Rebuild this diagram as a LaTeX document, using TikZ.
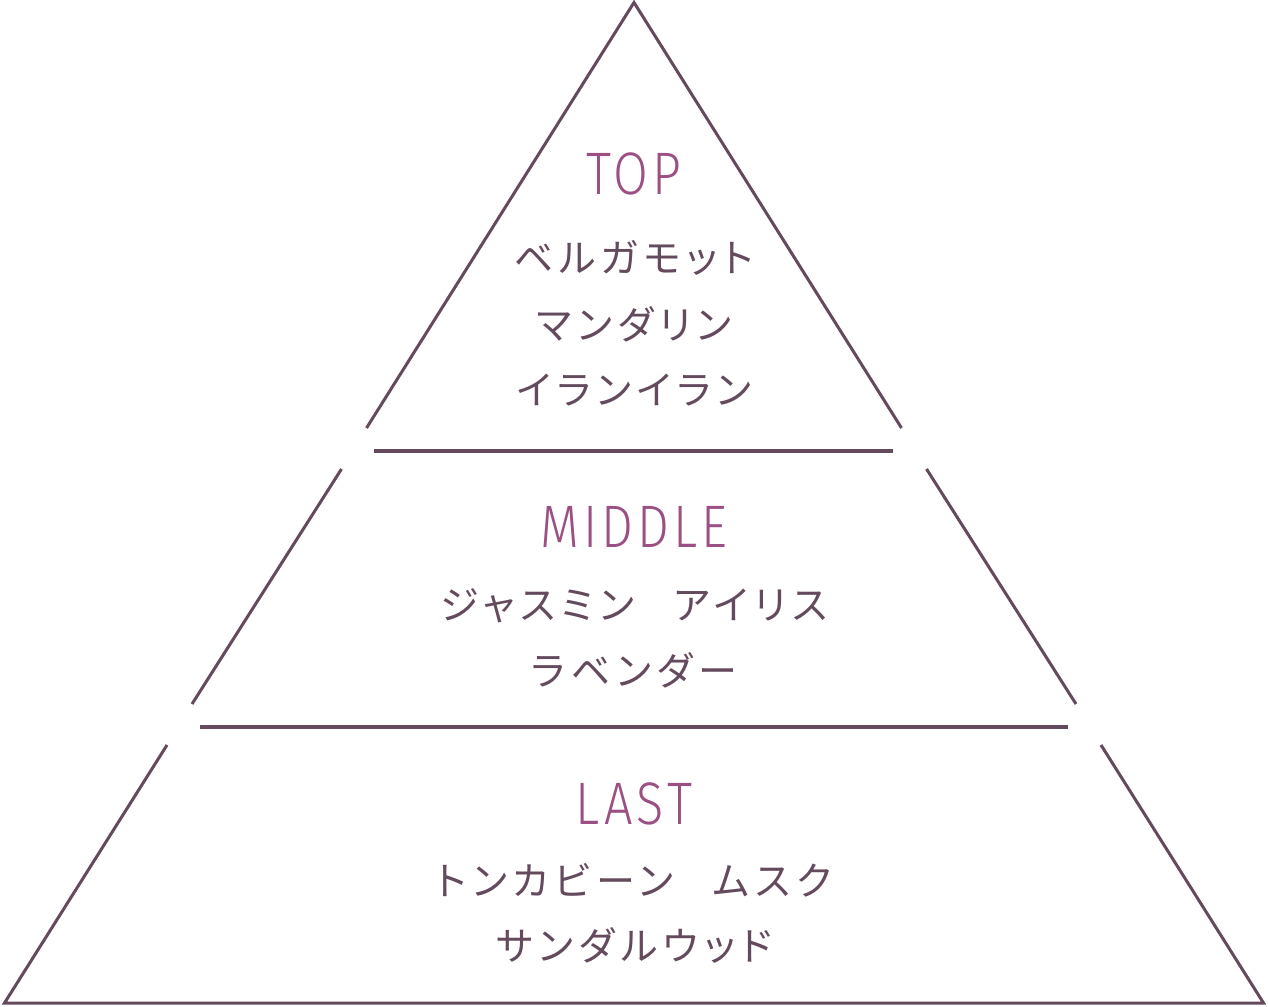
\documentclass[tikz,border=0pt]{standalone}
\usepackage{fontspec}
\newfontfamily\jpfont{Noto Sans CJK JP}[RawFeature=+palt]
\newfontfamily\titlefont{Fira Sans}[UprightFont={* Light},FakeStretch=0.84,LetterSpace=7]
\definecolor{linec}{HTML}{634A5C}
\definecolor{titlec}{HTML}{9B4F83}
\definecolor{textc}{HTML}{634A5C}
\tikzset{
  pyr/.style={draw=linec, line width=3pt, line join=miter, line cap=butt},
  sep/.style={draw=linec, line width=3.6pt},
  ttl/.style={text=titlec, font=\titlefont\fontsize{60}{60}\selectfont, inner sep=0pt, anchor=center},
  jp/.style={text=textc, font=\jpfont\fontsize{39}{39}\selectfont\addfontfeature{LetterSpace=15}, inner sep=0pt, anchor=center},
}
\newcommand{\jgap}{\hspace{40pt}}
\begin{document}
\begin{tikzpicture}[x=1pt,y=-1pt]
\useasboundingbox (0,0) rectangle (1268,1006);
% pyramid pieces
\coordinate (apex) at (634,2.5);
\coordinate (t1l) at (366.5,428);
\coordinate (t1r) at (901.5,428);
\coordinate (m1l) at (341.5,469);
\coordinate (m1r) at (926.5,469);
\coordinate (m2l) at (192,704);
\coordinate (m2r) at (1076,704);
\coordinate (b1l) at (167,745);
\coordinate (b1r) at (1101,745);
\coordinate (b2l) at (4.5,1003);
\coordinate (b2r) at (1263.5,1003);
\coordinate (s1l) at (374,451);
\coordinate (s1r) at (893,451);
\coordinate (s2l) at (200,727);
\coordinate (s2r) at (1068,727);
\draw[pyr] (t1l) -- (apex) -- (t1r);
\draw[pyr] (m1l) -- (m2l);
\draw[pyr] (m1r) -- (m2r);
\draw[pyr] (b1l) -- (b2l) -- (b2r) -- (b1r);
\draw[sep] (s1l) -- (s1r);
\draw[sep] (s2l) -- (s2r);
% texts
\node[ttl] (top) at (634,174) {TOP};
\node[jp] (t1) at (634,258) {ベルガモット};
\node[jp] (t2) at (634,324) {マンダリン};
\node[jp] (t3) at (634,390) {イランイラン};
\node[ttl] (mid) at (634,527) {MIDDLE};
\node[jp] (m1) at (634,606) {ジャスミン\jgap アイリス};
\node[jp] (m2) at (634,670) {ラベンダー};
\node[ttl] (last) at (634,804) {LAST};
\node[jp] (l1) at (634,880) {トンカビーン\jgap ムスク};
\node[jp] (l2) at (634,945) {サンダルウッド};
\end{tikzpicture}
\end{document}
